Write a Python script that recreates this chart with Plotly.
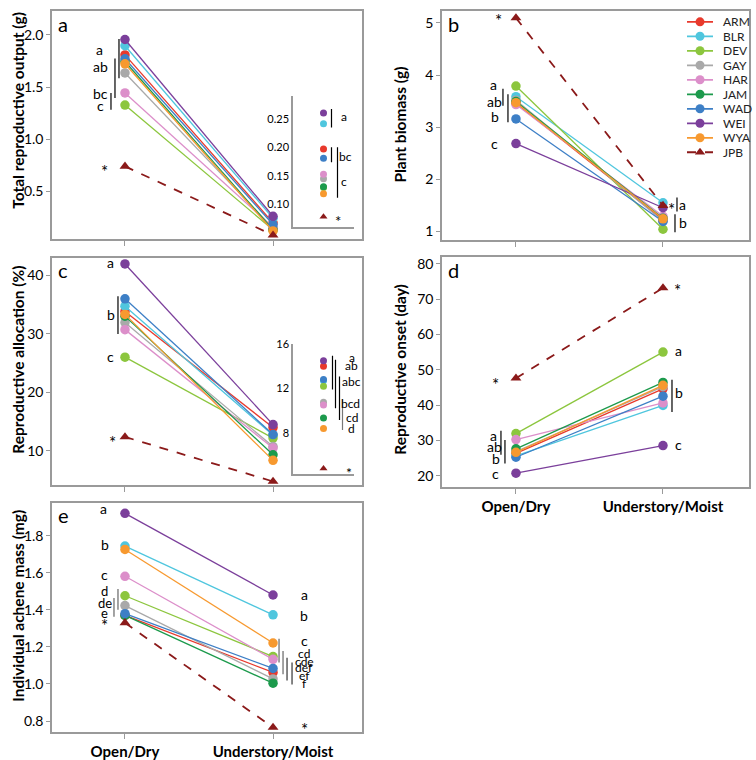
import plotly.graph_objects as go

W, H = 756, 760
FONT = "Lato"

# ---------------- data ----------------
sites = ["ARM", "BLR", "DEV", "GAY", "HAR", "JAM", "WAD", "WEI", "WYA", "JPB"]
colors = ["#e8392c", "#4fc6de", "#8cc63e", "#a9a9a9", "#dc8fca",
          "#1c9a4c", "#3d7fc6", "#7b3f9b", "#f7992f", "#8b1a1a"]
conditions = ["Open/Dry", "Understory/Moist"]

# (a) Total reproductive output (g)
a_open = [1.808, 1.896, 1.327, 1.635, 1.443, 1.745, 1.771, 1.956, 1.723, 0.739]
a_under = [0.197, 0.241, 0.130, 0.145, 0.153, 0.131, 0.181, 0.260, 0.119, 0.079]

# (b) Plant biomass (g)
b_open = [3.46, 3.585, 3.788, 3.517, 3.434, 3.49, 3.157, 2.684, 3.47, 5.095]
b_under = [1.22, 1.547, 1.04, 1.199, 1.29, 1.25, 1.19, 1.453, 1.24, 1.496]

# (c) Reproductive allocation (%)
c_open = [33.8, 34.7, 26.0, 31.9, 30.7, 33.0, 35.95, 41.9, 33.3, 12.4]
c_under = [14.0, 12.7, 12.2, 10.76, 10.5, 9.35, 12.8, 14.5, 8.4, 4.8]

# (d) Reproductive onset (day)
d_open = [26.3, 25.6, 31.9, 26.8, 30.2, 27.6, 25.2, 20.7, 26.6, 47.6]
d_under = [44.6, 39.9, 55.0, 45.2, 40.6, 46.4, 42.5, 28.5, 45.6, 73.2]

# (e) Individual achene mass (mg)
e_open = [1.37, 1.744, 1.476, 1.423, 1.581, 1.37, 1.379, 1.921, 1.726, 1.33]
e_under = [1.062, 1.373, 1.148, 1.027, 1.133, 1.004, 1.084, 1.48, 1.221, 0.765]

# ---------------- helpers ----------------
def fx(p):
    return p / W

def fy(p):
    return 1 - p / H

GRAY = "#9a9a9a"
fig = go.Figure()
annotations = []
shapes = []


def add_panel(xa, ya, vopen, vunder, msize=9.5):
    for i, s in enumerate(sites):
        jpb = s == "JPB"
        fig.add_trace(go.Scatter(
            x=list(range(len(conditions))), y=[vopen[i], vunder[i]],
            xaxis=xa, yaxis=ya, mode="lines+markers", showlegend=False,
            line=dict(color=colors[i], width=1.8 if jpb else 1.3,
                      dash="dash" if jpb else "solid"),
            marker=dict(color=colors[i], size=msize,
                        symbol="triangle-up" if jpb else "circle"),
            cliponaxis=False, name=s))


def add_inset(xa, ya, vals, msize=7):
    for i, s in enumerate(sites):
        jpb = s == "JPB"
        fig.add_trace(go.Scatter(
            x=[0], y=[vals[i]], xaxis=xa, yaxis=ya, mode="markers",
            showlegend=False,
            marker=dict(color=colors[i], size=msize,
                        symbol="triangle-up" if jpb else "circle"),
            cliponaxis=False, name=s))


def lab(text, ref, cat, dx, val, size=14, color="black"):
    star = text == "*"
    annotations.append(dict(text=text, xref="x" + ref, yref="y" + ref, x=cat, y=val,
                            xshift=dx, yshift=-4 if star else 0,
                            showarrow=False, xanchor="center", yanchor="middle",
                            font=dict(size=size + 3 if star else size,
                                      color=color, family=FONT)))


def bar(ref, cat, dx, v0, v1, color="black"):
    shapes.append(dict(type="line", xref="x" + ref, yref="y" + ref,
                       xsizemode="pixel", xanchor=cat, x0=dx, x1=dx,
                       y0=v0, y1=v1, line=dict(color=color, width=1.2)))


add_panel("x", "y", a_open, a_under)
add_panel("x2", "y2", b_open, b_under)
add_panel("x3", "y3", c_open, c_under)
add_panel("x4", "y4", d_open, d_under)
add_panel("x5", "y5", e_open, e_under)
add_inset("x6", "y6", a_under)
add_inset("x7", "y7", c_under)

# custom compact legend
for i, s in enumerate(sites):
    jpb = s == "JPB"
    fig.add_trace(go.Scatter(
        x=[7, 33], y=[-i, -i], xaxis="x8", yaxis="y8", mode="lines",
        showlegend=False, hoverinfo="skip",
        line=dict(color=colors[i], width=1.8, dash="dash" if jpb else "solid")))
    fig.add_trace(go.Scatter(
        x=[20], y=[-i], xaxis="x8", yaxis="y8", mode="markers",
        showlegend=False,
        marker=dict(color=colors[i], size=9,
                    symbol="triangle-up" if jpb else "circle")))
    annotations.append(dict(text=s, xref="x8", yref="y8", x=41, y=-i,
                            showarrow=False, xanchor="left", yanchor="middle",
                            font=dict(size=12, color="#222", family=FONT)))

# ---------------- axes ----------------
def main_x(dom, rng, labels):
    return dict(domain=[fx(dom[0]), fx(dom[1])], range=rng,
                tickvals=list(range(len(conditions))), ticktext=conditions,
                showticklabels=labels, ticks="outside", ticklen=5,
                tickcolor=GRAY, showline=True, linecolor=GRAY, linewidth=1.5,
                mirror=True, showgrid=False, zeroline=False,
                tickfont=dict(size=15, family=FONT, color="black", weight="bold"))


def main_y(dom, rng, tv, fmt):
    return dict(domain=[fy(dom[1]), fy(dom[0])], range=rng, tickvals=tv,
                tickformat=fmt, ticks="outside", ticklen=4, tickcolor=GRAY,
                showline=True, linecolor=GRAY, linewidth=1.5, mirror=True,
                showgrid=False, zeroline=False,
                tickfont=dict(size=14, family=FONT, color="black"))


def inset_x(dom):
    return dict(domain=[fx(dom[0]), fx(dom[1])], range=[-0.5, 0.5],
                showticklabels=False, ticks="", showline=True,
                linecolor=GRAY, linewidth=1.5, showgrid=False, zeroline=False)


def inset_y(dom, rng, tv, fmt):
    return dict(domain=[fy(dom[1]), fy(dom[0])], range=rng, tickvals=tv,
                tickformat=fmt, ticks="", showline=True, linecolor=GRAY,
                linewidth=1.5, showgrid=False, zeroline=False,
                tickfont=dict(size=11, family=FONT, color="black"))


rng_ace = [-0.493, 1.601]
rng_bd = [-0.503, 1.585]

fig.update_layout(
    width=W, height=H, margin=dict(l=0, r=0, t=0, b=0),
    paper_bgcolor="white", plot_bgcolor="rgba(0,0,0,0)", showlegend=False,
    font=dict(family=FONT, color="black"),
    xaxis=main_x([52, 362], rng_ace, False),
    yaxis=main_y([4, 235], [0.04, 2.23], [0.5, 1.0, 1.5, 2.0], ".1f"),
    xaxis2=main_x([442, 749], rng_bd, False),
    yaxis2=main_y([4, 236], [0.83, 5.23], [1, 2, 3, 4, 5], "d"),
    xaxis3=main_x([52, 362], rng_ace, False),
    yaxis3=main_y([254, 484], [4.15, 42.92], [10, 20, 30, 40], "d"),
    xaxis4=main_x([442, 749], rng_bd, True),
    yaxis4=main_y([253, 486], [16.7, 81.96], [20, 30, 40, 50, 60, 70, 80], "d"),
    xaxis5=main_x([52, 362], rng_ace, True),
    yaxis5=main_y([501.5, 734], [0.739, 1.979], [0.8, 1.0, 1.2, 1.4, 1.6, 1.8], ".1f"),
    xaxis6=inset_x([293, 354]),
    yaxis6=inset_y([90, 223], [0.0603, 0.2897], [0.10, 0.15, 0.20, 0.25], ".2f"),
    xaxis7=inset_x([293, 354]),
    yaxis7=inset_y([341, 473], [4.27, 16.0], [8, 12, 16], "d"),
    xaxis8=dict(domain=[fx(680), fx(750)], range=[0, 70], visible=False),
    yaxis8=dict(domain=[fy(154.35), fy(7.65)], range=[-9.5, 0.5], visible=False),
)
fig.layout.xaxis6.anchor = "y6"
fig.layout.xaxis7.anchor = "y7"
fig.layout.yaxis6.anchor = "x6"
fig.layout.yaxis7.anchor = "x7"
fig.layout.xaxis8.anchor = "y8"
fig.layout.yaxis8.anchor = "x8"
for n in range(2, 6):
    fig.layout["xaxis%d" % n].anchor = "y%d" % n
    fig.layout["yaxis%d" % n].anchor = "x%d" % n

# ---------------- significance letters ----------------
# panel a
lab("a", "", 0, -25, 1.858); lab("ab", "", 0, -24, 1.698)
lab("bc", "", 0, -24, 1.434); lab("c", "", 0, -24, 1.321)
lab("*", "", 0, -20, 0.726)
bar("", 0, -6, 1.962, 1.585); bar("", 0, -10, 1.774, 1.396); bar("", 0, -14, 1.443, 1.283)
# inset a
lab("a", "6", 0, 20, 0.2534, size=12); lab("bc", "6", 0, 22, 0.1845, size=12)
lab("c", "6", 0, 20, 0.1397, size=12); lab("*", "6", 0, 14, 0.0776, size=12)
bar("6", 0, 8, 0.267, 0.2345); bar("6", 0, 8, 0.200, 0.174); bar("6", 0, 14, 0.200, 0.112)
# panel b
lab("*", "2", 0, -17, 5.114); lab("a", "2", 0, -22, 3.826)
lab("ab", "2", 0, -21, 3.485); lab("b", "2", 0, -21, 3.201); lab("c", "2", 0, -21, 2.689)
bar("2", 0, -13, 3.737, 3.409); bar("2", 0, -8, 3.631, 3.093)
lab("*", "2", 1, 9, 1.496); lab("a", "2", 1, 20, 1.515); lab("b", "2", 1, 20, 1.174)
bar("2", 1, 14, 1.648, 1.383); bar("2", 1, 12, 1.326, 0.985)
# panel c
lab("a", "3", 0, -14, 42.07); lab("b", "3", 0, -14, 33.3); lab("c", "3", 0, -14, 26.05)
lab("*", "3", 0, -12, 12.2)
bar("3", 0, -7, 36.4, 29.97)
# inset c
lab("a", "7", 0, 28, 14.76, size=12); lab("ab", "7", 0, 28, 14.04, size=12)
lab("abc", "7", 0, 28, 12.62, size=12); lab("bcd", "7", 0, 27, 10.67, size=12)
lab("cd", "7", 0, 28, 9.42, size=12); lab("d", "7", 0, 28, 8.36, size=12)
lab("*", "7", 0, 25, 4.8, size=11)
bar("7", 0, 9, 14.93, 11.91); bar("7", 0, 12, 14.58, 10.22)
bar("7", 0, 16, 13.07, 9.16); bar("7", 0, 19, 11.02, 8.27, color="#777")
# panel d
lab("*", "4", 0, -20, 46.95); lab("a", "4", 0, -22, 31.5)
lab("ab", "4", 0, -21, 28.2); lab("b", "4", 0, -20, 24.8); lab("c", "4", 0, -20, 20.6)
bar("4", 0, -15, 32.7, 25.9); bar("4", 0, -11, 30.1, 23.4)
lab("*", "4", 1, 15, 73.56); lab("a", "4", 1, 16, 55.6)
lab("b", "4", 1, 16, 43.6); lab("c", "4", 1, 16, 28.7)
bar("4", 1, 9, 47.2, 38.0)
# panel e
lab("a", "5", 0, -21, 1.949); lab("b", "5", 0, -20, 1.752); lab("c", "5", 0, -20, 1.592)
lab("d", "5", 0, -20, 1.501, size=13); lab("de", "5", 0, -20, 1.437, size=13)
lab("e", "5", 0, -20, 1.384, size=13)
lab("*", "5", 0, -20, 1.336)
bar("5", 0, -7, 1.512, 1.400, color="#666"); bar("5", 0, -11, 1.464, 1.363, color="#666")
for t, v in [("a", 1.485), ("b", 1.368), ("c", 1.235)]:
    lab(t, "5", 1, 31, v)
for t, v in [("cd", 1.165), ("cde", 1.123), ("def", 1.091), ("ef", 1.043), ("f", 1.005)]:
    lab(t, "5", 1, 31, v, size=12)
lab("*", "5", 1, 31, 0.776)
bar("5", 1, 6, 1.244, 1.116, color="#666"); bar("5", 1, 10, 1.178, 1.053, color="#666")
bar("5", 1, 14, 1.142, 1.018, color="#333"); bar("5", 1, 19, 1.116, 0.997, color="#333")

# ---------------- panel letters & axis titles ----------------
for t, x, y in [("a", 56, 17), ("b", 446, 17), ("c", 56, 266), ("d", 446, 266), ("e", 56, 514)]:
    annotations.append(dict(text=t, xref="paper", yref="paper", x=fx(x), y=fy(y),
                            showarrow=False, xanchor="left", yanchor="middle",
                            font=dict(size=20, family=FONT, color="black")))
for t, x, y in [("Total reproductive output (g)", 18, 105),
                ("Plant biomass (g)", 400, 119),
                ("Reproductive allocation (%)", 18, 357),
                ("Reproductive onset (day)", 400, 367),
                ("Individual achene mass (mg)", 18, 606)]:
    annotations.append(dict(text="<b>%s</b>" % t, xref="paper", yref="paper",
                            x=fx(x), y=fy(y), showarrow=False, textangle=-90,
                            xanchor="center", yanchor="middle",
                            font=dict(size=15.5, family=FONT, color="black")))

fig.update_layout(annotations=annotations, shapes=shapes)
fig.write_html("out.html", config={"displayModeBar": False},
               post_script="document.body.style.margin='0';document.body.style.overflow='hidden';")
